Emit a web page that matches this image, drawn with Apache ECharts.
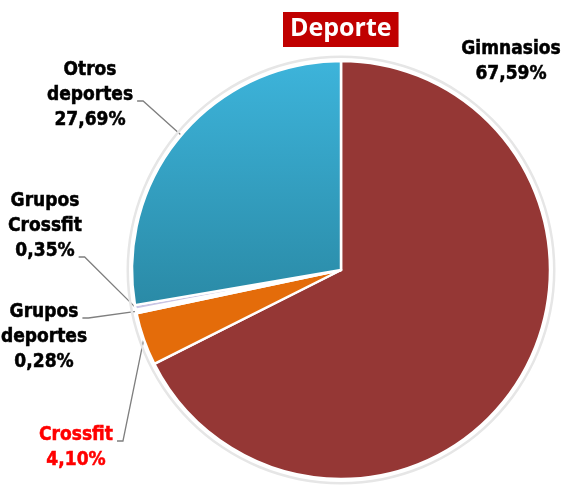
<!DOCTYPE html>
<html><head><meta charset="utf-8">
<script src="https://cdn.jsdelivr.net/npm/echarts@6/dist/echarts.min.js"></script>
<style>html,body{margin:0;padding:0;background:#fff}#c{width:566px;height:488px}</style>
</head><body><div id="c"></div>
<script>
const categories = ['Gimnasios', 'Crossfit', 'Grupos\ndeportes', 'Grupos\nCrossfit', 'Otros\ndeportes'];
const values = [67.59, 4.10, 0.28, 0.35, 27.69];
const valueLabels = ['67,59%', '4,10%', '0,28%', '0,35%', '27,69%'];
const titleText = 'Deporte';

const sliceColors = [
  '#953735',
  '#E46C0A',
  '#ffffff',
  '#C9C5E4',
  {type:'linear',x:0,y:0,x2:0,y2:1,colorStops:[{offset:0,color:'#3DB4DB'},{offset:1,color:'#2A8AA6'}]}
];
const labelColors = ['#000','#FF0000','#000','#000','#000'];
// label placement (center x, top y) and the text line the leader leaves from
const labelPos = [[511,37],[76,423],[44,300],[45,189],[90,58]];
const leaderLine = [null, 0, 0, 2, 1];

const fontSize = 19, lineH = 25;
const font = "'Liberation Sans Narrow','DejaVu Sans Condensed','Arial Narrow',sans-serif";
const cv = document.createElement('canvas').getContext('2d');
cv.font = 'bold ' + fontSize + 'px ' + font;

const chart = echarts.init(document.getElementById('c'));
chart.setOption({
  animation:false,
  title:{
    text:titleText, left:283, top:12,
    backgroundColor:'#C00000', padding:[3,7,4,7],
    textStyle:{color:'#fff', fontSize:25, fontWeight:'bold', fontFamily:"'Open Sans',sans-serif", lineHeight:28}
  },
  series:[
    {
      type:'pie', silent:true, center:[341,270], radius:[212,214.5],
      label:{show:false}, labelLine:{show:false},
      itemStyle:{color:'#e6e6e6'}, data:[1]
    },
    {
      type:'pie', center:[341,270], radius:[0,209], startAngle:90, clockwise:true,
      avoidLabelOverlap:false,
      itemStyle:{borderColor:'#fff', borderWidth:2.5},
      data: categories.map((c,i)=>({
        name:c, value:values[i],
        itemStyle:{color:sliceColors[i]},
        label:{color:labelColors[i], textBorderColor:labelColors[i]},
        labelLine:{show: leaderLine[i] !== null}
      })),
      label:{
        show:true, position:'outside',
        formatter:(p)=>p.name+'\n'+valueLabels[p.dataIndex],
        fontFamily:font, fontWeight:'bold', fontSize:fontSize, lineHeight:lineH, align:'center',
        textBorderWidth:0.5
      },
      labelLine:{show:true, length:8, length2:6, lineStyle:{color:'#7f7f7f', width:1.3}},
      labelLayout:(p)=>{
        const i = p.dataIndex;
        const [cx, ty] = labelPos[i];
        const out = {x:cx, y:ty, align:'center', verticalAlign:'top'};
        const li = leaderLine[i];
        if (li !== null && p.labelLinePoints) {
          const lines = (categories[i] + '\n' + valueLabels[i]).split('\n');
          const w = cv.measureText(lines[li]).width;
          const sx = cx + w/2 + 4, sy = ty + li*lineH + 18;
          out.labelLinePoints = [p.labelLinePoints[0], [sx+6, sy], [sx, sy]];
        }
        return out;
      }
    }
  ]
});
</script></body></html>
